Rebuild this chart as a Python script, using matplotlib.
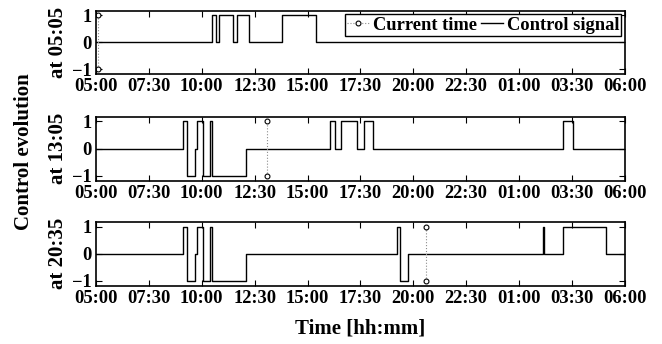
import matplotlib
matplotlib.use('Agg')
import matplotlib.pyplot as plt
from matplotlib.lines import Line2D

# switching instants (hh:mm) and control value from that instant on
times_0505 = ['05:00', '10:28', '10:39', '10:49', '11:29', '11:39', '12:15',
              '13:48', '15:24', '06:00']
values_0505 = [0, 1, 0, 1, 0, 1, 0, 1, 0, 0]

times_1305 = ['05:00', '09:08', '09:19', '09:40', '09:47', '10:04', '10:23',
              '10:29', '12:04', '16:04', '16:18', '16:35', '17:19', '17:41',
              '18:05', '03:03', '03:33', '06:00']
values_1305 = [0, 1, -1, 0, 1, -1, 1, -1, 0, 1, 0, 1, 0, 1, 0, 1, 0, 0]

times_2035 = ['05:00', '09:08', '09:19', '09:40', '09:47', '10:04', '10:23',
              '10:29', '12:04', '19:14', '19:22', '19:44', '02:07', '02:10',
              '03:03', '05:05', '06:00']
values_2035 = [0, 1, -1, 0, 1, -1, 1, -1, 0, 1, -1, 0, 1, 0, 1, 0, 0]

current_times = ['05:05', '13:05', '20:35']
panel_labels = ['at 05:05', 'at 13:05', 'at 20:35']
tick_labels = ['05:00', '07:30', '10:00', '12:30', '15:00', '17:30',
               '20:00', '22:30', '01:00', '03:30', '06:00']


def clock(s):
    h, m = s.split(':')
    return int(h) + int(m) / 60.0


def conv(times):
    # clock times in order -> hours, adding a day whenever the clock wraps
    out = []
    day = 0
    prev = None
    for s in times:
        v = clock(s)
        if prev is not None and v + day < prev:
            day += 24
        out.append(v + day)
        prev = v + day
    return out


plt.rcParams['font.family'] = ['Liberation Serif', 'DejaVu Serif']
plt.rcParams['font.weight'] = 'bold'
plt.rcParams['axes.labelweight'] = 'bold'
plt.rcParams['font.size'] = 13.3

fig = plt.figure(figsize=(6.62, 3.44), dpi=100)
boxes = [(0.145, 0.785, 0.799, 0.184),
         (0.145, 0.475, 0.799, 0.186),
         (0.145, 0.170, 0.799, 0.184)]
series = [(times_0505, values_0505), (times_1305, values_1305), (times_2035, values_2035)]
tick_pos = [5 + 2.5 * i for i in range(len(tick_labels))]

axes = []
for k, box in enumerate(boxes):
    ax = fig.add_axes(box)
    t, v = series[k]
    x = conv(t)
    ax.plot(x, v, drawstyle='steps-post', color='black', lw=1.0)
    ct = clock(current_times[k])
    ax.plot([ct, ct], [-1, 1], ls=':', color='0.55', lw=0.8,
            marker='o', ms=3.5, mfc='white', mec='black', mew=0.8)
    ax.set_xlim(5, 30)
    ax.set_ylim(-1.17, 1.17)
    ax.set_yticks([-1, 0, 1])
    ax.set_yticklabels(['\u22121', '0', '1'])
    ax.set_xticks(tick_pos)
    ax.set_xticklabels(tick_labels)
    ax.tick_params(direction='in', top=True, right=True, length=4, width=0.8, pad=3)
    for sp in ax.spines.values():
        sp.set_linewidth(1.2)
    ax.set_ylabel(panel_labels[k], labelpad=3, fontsize=15)
    axes.append(ax)

handles = [Line2D([], [], ls=':', color='0.55', lw=0.8, marker='o', ms=3.5,
                  mfc='white', mec='black', mew=0.8),
           Line2D([], [], color='black', lw=1.0)]
leg = axes[0].legend(handles, ['Current time', 'Control signal'], loc='upper right',
                     ncol=2, fontsize=13.3, frameon=True, fancybox=False,
                     edgecolor='black', framealpha=1, borderpad=0.12,
                     handlelength=1.2, handletextpad=0.2, columnspacing=0.2,
                     borderaxespad=0.2, numpoints=1)
leg.get_frame().set_linewidth(1.0)

fig.text(0.036, 0.56, 'Control evolution', rotation=90, ha='center', va='center',
         fontsize=15, fontweight='bold')
fig.text(0.544, 0.045, 'Time [hh:mm]', ha='center', va='center',
         fontsize=15, fontweight='bold')

fig.savefig('out.png', dpi=100)
